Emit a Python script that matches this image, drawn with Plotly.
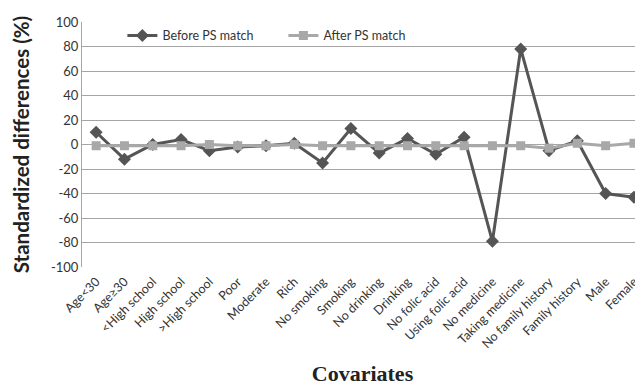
import plotly.graph_objects as go

categories = ["Age<30", "Age≥30", "<High school", "High school", ">High school", "Poor",
              "Moderate", "Rich", "No smoking", "Smoking", "No drinking", "Drinking",
              "No folic acid", "Using folic acid", "No medicine", "Taking medicine",
              "No family history", "Family history", "Male", "Female"]
before = [10, -12, 0, 4, -5, -2, -1, 1, -15, 13, -7, 5, -8, 6, -79, 78, -5, 3, -40, -43]
after = [-1, -1, -1, -1, 0, -1, -1, 0, -1, -1, -1, -1, -1, -1, -1, -1, -3, 1, -1, 1]
yticks = list(range(-100, 101, 20))

fig = go.Figure()
fig.add_trace(go.Scatter(x=categories, y=before, name="Before PS match", mode="lines+markers",
                         line=dict(color="#555555", width=3),
                         marker=dict(symbol="diamond", size=10, color="#555555")))
fig.add_trace(go.Scatter(x=categories, y=after, name="After PS match", mode="lines+markers",
                         line=dict(color="#a8a8a8", width=3),
                         marker=dict(symbol="square", size=9, color="#a8a8a8")))

fig.update_layout(
    width=635, height=382,
    margin=dict(l=74, r=0, t=14, b=123),
    paper_bgcolor="white", plot_bgcolor="white",
    font=dict(family="Lato", size=12, color="#333333"),
    showlegend=True,
    legend=dict(orientation="h", x=0.072, y=1.005, xanchor="left", yanchor="top",
                font=dict(family="Lato", size=12.5, color="#333333"),
                bgcolor="rgba(0,0,0,0)", entrywidth=116, entrywidthmode="pixels"),
    xaxis=dict(type="category", range=[-0.5, 19.32], tickangle=-45, automargin=False,
               tickfont=dict(family="Lato", size=12.5, color="#333333"),
               ticklabelstandoff=4,
               showgrid=False, showline=False, ticks="",
               title=dict(text="<b>Covariates</b>",
                          font=dict(family="Liberation Serif", size=22, color="#222222"))),
    yaxis=dict(range=[-100, 100], tickvals=yticks, ticktext=[str(v) for v in yticks],
               automargin=False,
               tickfont=dict(family="Lato", size=13, color="#333333"),
               showgrid=True, gridcolor="#a6a6a6", gridwidth=1,
               showline=True, linecolor="#a6a6a6", linewidth=1,
               zeroline=True, zerolinecolor="#a6a6a6", zerolinewidth=1,
               ticks="", ticklen=0,
               title=dict(text="<b>Standardized differences (%)</b>",
                          font=dict(family="Lato", size=20.5, color="#222222"))),
)

fig.write_html("out.html")
